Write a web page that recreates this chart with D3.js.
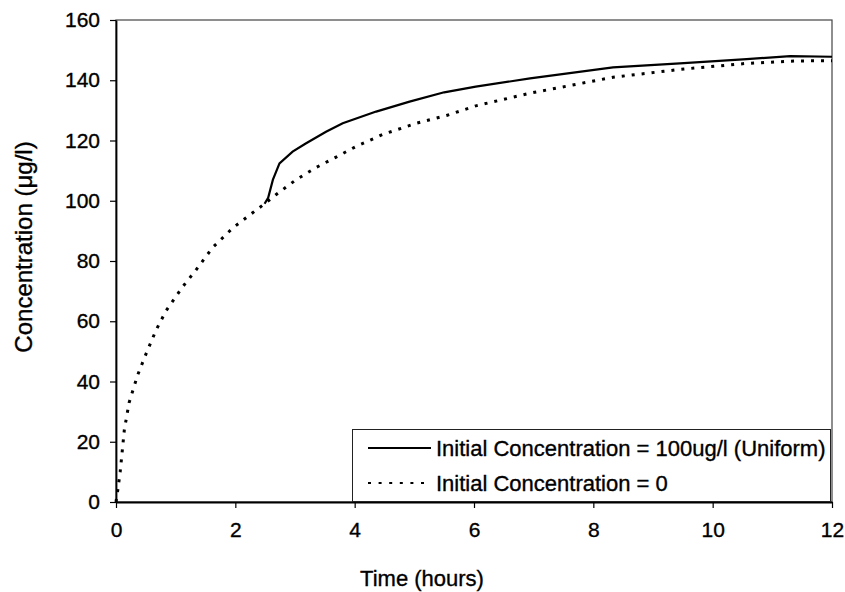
<!DOCTYPE html>
<html>
<head>
<meta charset="utf-8">
<script src="https://cdnjs.cloudflare.com/ajax/libs/d3/7.8.5/d3.min.js"></script>
<style>
  body { margin: 0; background: #fff; }
  svg { display: block; font-family: "Liberation Sans", Arial, sans-serif; }
  svg text { stroke: #000; stroke-width: 0.35px; }
</style>
</head>
<body>
<div id="chart"></div>
<script>

// series 1: initial concentration = 100ug/l (uniform), starts at ~2.5 h
var timeUniform = [2.49, 2.55, 2.63, 2.74, 2.96, 3.18, 3.52, 3.80, 4.36, 4.92, 5.50, 6.03, 6.94, 8.33, 9.45, 10.57, 11.3, 12];
var concUniform = [99, 101, 107, 112.4, 116.3, 119, 122.9, 125.7, 129.6, 132.9, 136, 137.9, 140.6, 144.3, 145.6, 147, 148, 147.8];

// series 2: initial concentration = 0
var timeZero = [0, 0.03, 0.07, 0.11, 0.14, 0.22, 0.36, 0.5, 0.67, 0.84, 1.12, 1.34, 1.62, 1.96, 2.29, 2.49, 2.68, 3.02, 3.35, 3.69, 4.02, 4.47, 5.03, 5.54, 6.03, 6.94, 8.33, 9.45, 10.57, 11.4, 12];
var concZero = [0, 4, 10, 18, 24, 33, 42, 49, 57, 63.5, 71.5, 77, 84.5, 91, 96, 99, 102, 107, 111, 114.5, 118, 122, 125.7, 128.3, 131.5, 135.7, 141, 143.6, 145.6, 146.4, 146.5];

var xTicks = [0, 2, 4, 6, 8, 10, 12];
var yTicks = [0, 20, 40, 60, 80, 100, 120, 140, 160];
var legendLabels = ['Initial Concentration = 100ug/l (Uniform)', 'Initial Concentration = 0'];

var width = 845, height = 592;
var margin = {top: 20, right: 13, bottom: 90, left: 116};
var w = width - margin.left - margin.right;
var h = height - margin.top - margin.bottom;

var svg = d3.select('#chart')
    .append('svg')
    .attr('width', width)
    .attr('height', height);

var g = svg.append('g')
    .attr('transform', 'translate(' + margin.left + ',' + margin.top + ')');

var x = d3.scaleLinear().domain([0, 12]).range([0, w]);
var y = d3.scaleLinear().domain([0, 160]).range([h, 0]);

// plot frame (top and right)
g.append('rect')
    .attr('x', 0).attr('y', 0)
    .attr('width', w).attr('height', h)
    .attr('fill', 'none')
    .attr('stroke', '#444')
    .attr('stroke-width', 1.2);

var xAxis = g.append('g')
    .attr('transform', 'translate(0,' + h + ')')
    .call(d3.axisBottom(x).tickValues(xTicks).tickSize(6).tickPadding(14).tickSizeOuter(0));

var yAxis = g.append('g')
    .call(d3.axisLeft(y).tickValues(yTicks).tickSize(6).tickPadding(10).tickSizeOuter(0));

[xAxis, yAxis].forEach(function(a) {
  a.select('.domain').attr('stroke', '#000').attr('stroke-width', 1.8);
  a.selectAll('.tick line').attr('stroke', '#000').attr('stroke-width', 1.2);
  a.selectAll('.tick text')
      .attr('fill', '#000')
      .style('font-size', '21px')
      .style('font-family', '"Liberation Sans", Arial, sans-serif');
});

var line = d3.line()
    .x(function(d) { return x(d[0]); })
    .y(function(d) { return y(d[1]); });

var ptsZero = d3.zip(timeZero, concZero);
var ptsUniform = d3.zip(timeUniform, concUniform);

g.append('path')
    .datum(ptsZero)
    .attr('d', line)
    .attr('fill', 'none')
    .attr('stroke', '#000')
    .attr('stroke-width', 3)
    .attr('stroke-dasharray', '3,7');

g.append('path')
    .datum(ptsUniform)
    .attr('d', line)
    .attr('fill', 'none')
    .attr('stroke', '#000')
    .attr('stroke-width', 2.2);

// legend box sits on the x axis, against the right edge
var lg = svg.append('g');
lg.append('rect')
    .attr('x', 352.5).attr('y', 429.5)
    .attr('width', 478).attr('height', 72)
    .attr('fill', '#fff')
    .attr('stroke', '#222')
    .attr('stroke-width', 1);

legendLabels.forEach(function(label, i) {
  var cy = 448 + i * 35;
  lg.append('line')
      .attr('x1', 368).attr('x2', 431)
      .attr('y1', cy).attr('y2', cy)
      .attr('stroke', '#000')
      .attr('stroke-width', i == 0 ? 2 : 1.8)
      .attr('stroke-dasharray', i == 0 ? null : '3,7.6');
  lg.append('text')
      .attr('x', 436)
      .attr('y', cy + 8)
      .style('font-size', '22px')
      .text(label);
});

// axis titles
svg.append('text')
    .attr('x', 422)
    .attr('y', 586)
    .attr('text-anchor', 'middle')
    .style('font-size', '22px')
    .text('Time (hours)');

svg.append('text')
    .attr('transform', 'translate(32,247) rotate(-90)')
    .attr('text-anchor', 'middle')
    .style('font-size', '24px')
    .text('Concentration (\u03bcg/l)');

</script>
</body>
</html>
